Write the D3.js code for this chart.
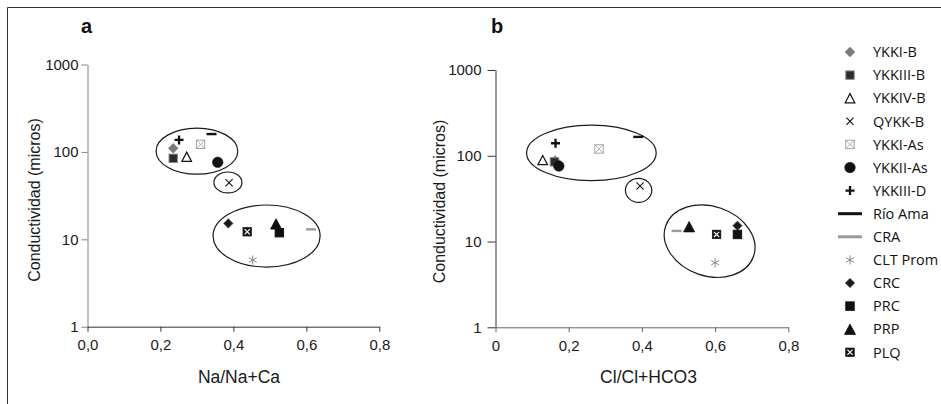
<!DOCTYPE html>
<html>
<head>
<meta charset="utf-8">
<script src="https://cdn.jsdelivr.net/npm/d3@7"></script>
<style>
  html, body { margin: 0; padding: 0; background: #fff; }
  svg { display: block; }
</style>
</head>
<body>
<svg id="chart" width="941" height="404"></svg>
<script>
// ---------------- DATA ----------------
const series = ["YKKI-B", "YKKIII-B", "YKKIV-B", "QYKK-B", "YKKI-As", "YKKII-As", "YKKIII-D",
                "Río Ama", "CRA", "CLT Prom", "CRC", "PRC", "PRP", "PLQ"];

// Panel a: Na/Na+Ca vs conductivity
const naRatio = [0.235, 0.235, 0.272, 0.388, 0.310, 0.357, 0.251, 0.340, 0.613, 0.453, 0.386, 0.526, 0.517, 0.438];
const condA   = [110,   84.5,  88,    44.4,  122,   76,    137,   160,   13.0,  5.8,   15.2,  11.9,  15.0,  12.2];

// Panel b: Cl/Cl+HCO3 vs conductivity
const clRatio = [0.163, 0.161, 0.129, 0.395, 0.283, 0.173, 0.164, 0.390, 0.495, 0.600, 0.661, 0.661, 0.529, 0.604];
const condB   = [88,    85,    89,    44.4,  120,   76,    140,   166,   13.3,  5.66,  15.3,  12.1,  14.9,  12.1];

const xTicks = [0, 0.2, 0.4, 0.6, 0.8];
const xTickLabelsA = ["0,0", "0,2", "0,4", "0,6", "0,8"];
const xTickLabelsB = ["0", "0,2", "0,4", "0,6", "0,8"];
const yTicks = [1, 10, 100, 1000];

// Group ellipses (data units: centre x, centre conductivity, x half-width, half-height in decades)
const groupsA = [
  {cx: 0.300, cy: 102,  rx: 0.112,  ry: 0.263, rot: 0},
  {cx: 0.385, cy: 44.7, rx: 0.0384, ry: 0.120, rot: 0},
  {cx: 0.491, cy: 10.9, rx: 0.1467, ry: 0.355, rot: 0}
];
const groupsB = [
  {cx: 0.262, cy: 108,  rx: 0.177,  ry: 0.324, rot: 0},
  {cx: 0.391, cy: 39.5, rx: 0.036,  ry: 0.140, rot: 0},
  {cx: 0.585, cy: 10.1, rx: 0.127,  ry: 0.406, rot: 19}
];

// ---------------- STYLES ----------------
const markerStyle = {
  "YKKI-B":   {shape: "diamond", fill: "#7a7a7a", stroke: "#7a7a7a"},
  "YKKIII-B": {shape: "square",  fill: "#2b2b2b", stroke: "#8a8a8a"},
  "YKKIV-B":  {shape: "triangle", fill: "none", stroke: "#111"},
  "QYKK-B":   {shape: "times",   fill: "none", stroke: "#111"},
  "YKKI-As":  {shape: "boxx",    fill: "none", stroke: "#9a9a9a"},
  "YKKII-As": {shape: "circle",  fill: "#111", stroke: "#111"},
  "YKKIII-D": {shape: "plus",    fill: "none", stroke: "#111"},
  "Río Ama":  {shape: "dash",    fill: "none", stroke: "#111"},
  "CRA":      {shape: "dash",    fill: "none", stroke: "#9a9a9a"},
  "CLT Prom": {shape: "asterisk", fill: "none", stroke: "#8a8a8a"},
  "CRC":      {shape: "diamond", fill: "#1a1a1a", stroke: "#777"},
  "PRC":      {shape: "square",  fill: "#111", stroke: "#111"},
  "PRP":      {shape: "triangle", fill: "#111", stroke: "#111"},
  "PLQ":      {shape: "boxxfill", fill: "#111", stroke: "#fff"}
};

const svg = d3.select("#chart");
const FONT = "'Liberation Sans', Arial, sans-serif";

// Frame
svg.append("path")
  .attr("d", "M7.5,404 L7.5,7.5 L941,7.5")
  .attr("fill", "none").attr("stroke", "#333").attr("stroke-width", 1);

function drawMarker(g, name, px, py, legend) {
  const st = markerStyle[name];
  const m = g.append("g").attr("transform", `translate(${px},${py})`);
  switch (st.shape) {
    case "diamond": {
      const r = 4.8;
      m.append("path").attr("d", `M0,${-r}L${r},0L0,${r}L${-r},0Z`)
        .attr("fill", st.fill).attr("stroke", st.stroke).attr("stroke-width", 0.8);
      break;
    }
    case "square": {
      const r = 4.2;
      m.append("rect").attr("x", -r).attr("y", -r).attr("width", 2 * r).attr("height", 2 * r)
        .attr("fill", st.fill).attr("stroke", st.stroke).attr("stroke-width", 1);
      break;
    }
    case "triangle": {
      const w = st.fill === "none" ? 4.8 : 5.5, h = st.fill === "none" ? 4.6 : 5.2;
      m.append("path").attr("d", `M0,${-h}L${w},${h}L${-w},${h}Z`)
        .attr("fill", st.fill).attr("stroke", st.stroke).attr("stroke-width", st.fill === "none" ? 1.2 : 0.8)
        .attr("stroke-linejoin", "miter");
      break;
    }
    case "circle":
      m.append("circle").attr("r", 5.3).attr("fill", st.fill).attr("stroke", st.stroke).attr("stroke-width", 0.5);
      break;
    case "times": {
      const r = 3.6;
      m.append("path").attr("d", `M${-r},${-r}L${r},${r}M${-r},${r}L${r},${-r}`)
        .attr("stroke", st.stroke).attr("stroke-width", 1.1);
      break;
    }
    case "plus": {
      const r = 4.5;
      m.append("path").attr("d", `M${-r},0L${r},0M0,${-r}L0,${r}`)
        .attr("stroke", st.stroke).attr("stroke-width", 2.3);
      break;
    }
    case "dash": {
      const r = legend ? 12 : 5;
      m.append("path").attr("d", `M${-r},0L${r},0`)
        .attr("stroke", st.stroke).attr("stroke-width", legend ? 3 : 2.4);
      break;
    }
    case "asterisk": {
      const r = 4.6, c = r * Math.cos(Math.PI / 6), s = r * Math.sin(Math.PI / 6);
      m.append("path").attr("d", `M0,${-r}L0,${r}M${-c},${-s}L${c},${s}M${-c},${s}L${c},${-s}`)
        .attr("stroke", st.stroke).attr("stroke-width", 1);
      break;
    }
    case "boxx": {
      const r = 4.2;
      m.append("rect").attr("x", -r).attr("y", -r).attr("width", 2 * r).attr("height", 2 * r)
        .attr("fill", "#fff").attr("stroke", st.stroke).attr("stroke-width", 0.9);
      m.append("path").attr("d", `M${-r},${-r}L${r},${r}M${-r},${r}L${r},${-r}`)
        .attr("stroke", st.stroke).attr("stroke-width", 0.8);
      break;
    }
    case "boxxfill": {
      const r = 4.3, q = 2.6;
      m.append("rect").attr("x", -r).attr("y", -r).attr("width", 2 * r).attr("height", 2 * r)
        .attr("fill", st.fill).attr("stroke", st.fill).attr("stroke-width", 0.6);
      m.append("path").attr("d", `M${-q},${-q}L${q},${q}M${-q},${q}L${q},${-q}`)
        .attr("stroke", st.stroke).attr("stroke-width", 1.2);
      break;
    }
  }
}

function drawPanel(cfg) {
  const x = d3.scaleLinear().domain([0, 0.8]).range(cfg.xRange);
  const y = d3.scaleLog().domain([1, 1000]).range(cfg.yRange);
  const g = svg.append("g");

  // y axis
  const yAxis = d3.axisLeft(y).tickValues(yTicks).tickFormat(d3.format("d"))
    .tickSize(cfg.yTickSize).tickSizeOuter(0).tickPadding(cfg.yTickPad);
  const ya = g.append("g").attr("transform", `translate(${cfg.xRange[0]},0)`).call(yAxis);
  ya.select(".domain").attr("stroke", cfg.yAxisColor);
  ya.selectAll(".tick line").attr("stroke", cfg.yAxisColor);
  ya.selectAll("text").attr("font-family", FONT).attr("font-size", 15).attr("fill", "#1a1a1a");

  // x axis
  const xAxis = d3.axisBottom(x).tickValues(xTicks).tickFormat((d, i) => cfg.xLabels[i])
    .tickSize(5).tickSizeOuter(0).tickPadding(8);
  const xa = g.append("g").attr("transform", `translate(0,${cfg.yRange[0]})`).call(xAxis);
  xa.select(".domain").attr("stroke", cfg.xAxisColor);
  xa.selectAll(".tick line").attr("stroke", cfg.xAxisColor);
  xa.selectAll("text").attr("font-family", FONT).attr("font-size", 15).attr("fill", "#1a1a1a");

  // axis titles
  g.append("text").attr("x", cfg.xTitleX).attr("y", 383)
    .attr("text-anchor", "middle").attr("font-family", FONT).attr("font-size", 17.5).attr("fill", "#1a1a1a")
    .text(cfg.xTitle);
  g.append("text").attr("transform", `translate(${cfg.yTitleX},${cfg.yTitleY}) rotate(-90)`)
    .attr("text-anchor", "middle").attr("font-family", FONT).attr("font-size", 16).attr("fill", "#1a1a1a")
    .text("Conductividad (micros)");

  // panel letter
  g.append("text").attr("x", cfg.letterX).attr("y", 33)
    .attr("font-family", FONT).attr("font-weight", "bold").attr("font-size", 20).attr("fill", "#111")
    .text(cfg.letter);

  // group ellipses
  cfg.groups.forEach(e => {
    const cx = x(e.cx), cy = y(e.cy);
    const rx = x(e.cx + e.rx) - x(e.cx);
    const ry = y(e.cy) - y(e.cy * Math.pow(10, e.ry));
    g.append("ellipse").attr("cx", cx).attr("cy", cy).attr("rx", rx).attr("ry", ry)
      .attr("transform", `rotate(${e.rot},${cx},${cy})`)
      .attr("fill", "none").attr("stroke", "#1a1a1a").attr("stroke-width", 1.2);
  });

  // points
  series.forEach((name, i) => {
    drawMarker(g, name, x(cfg.xs[i]), y(cfg.ys[i]), false);
  });
}

drawPanel({
  xRange: [87.5, 379.3], yRange: [326.7, 64.5],
  yTickSize: 6, yTickPad: 3, yAxisColor: "#808080", xAxisColor: "#333",
  xLabels: xTickLabelsA, xTitle: "Na/Na+Ca", xTitleX: 239,
  yTitleX: 40, yTitleY: 200, letter: "a", letterX: 81,
  groups: groupsA, xs: naRatio, ys: condA
});

drawPanel({
  xRange: [495.5, 788.3], yRange: [327.3, 70],
  yTickSize: 8, yTickPad: 6, yAxisColor: "#333", xAxisColor: "#666",
  xLabels: xTickLabelsB, xTitle: "Cl/Cl+HCO3", xTitleX: 648.5,
  yTitleX: 445, yTitleY: 201.5, letter: "b", letterX: 491,
  groups: groupsB, xs: clRatio, ys: condB
});

// legend
const leg = svg.append("g");
series.forEach((name, i) => {
  const ry = 52 + 23.1 * i;
  drawMarker(leg, name, 850, ry, true);
  leg.append("text").attr("x", 873).attr("y", ry).attr("dy", "0.36em")
    .attr("font-family", "'Open Sans', sans-serif").attr("font-size", 14.5).attr("fill", "#111")
    .text(name);
});
</script>
</body>
</html>
